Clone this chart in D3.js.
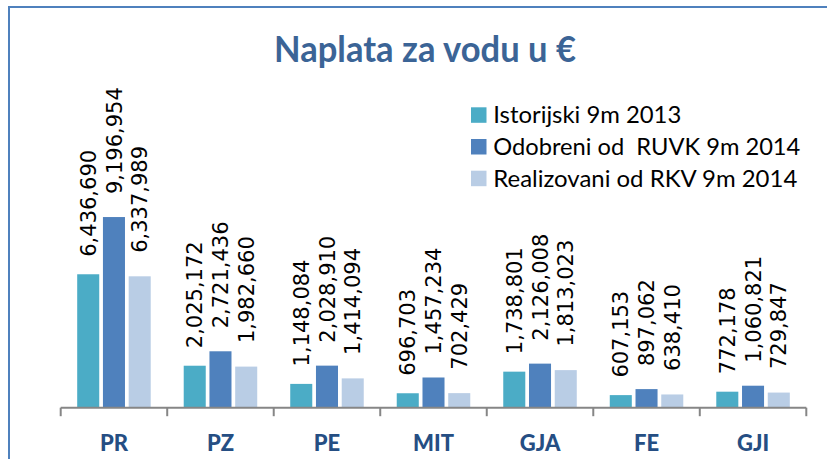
<!DOCTYPE html>
<html>
<head>
<meta charset="utf-8">
<script src="https://cdn.jsdelivr.net/npm/d3@7"></script>
<style>
  body { margin: 0; background: #fff; }
  svg { display: block; }
</style>
</head>
<body>
<div id="chart"></div>
<script>
// chart data
var categories = ["PR", "PZ", "PE", "MIT", "GJA", "FE", "GJI"];
var seriesNames = ["Istorijski 9m 2013", "Odobreni od  RUVK 9m 2014", "Realizovani od RKV 9m 2014"];
var istorijski = [6436690, 2025172, 1148084, 696703, 1738801, 607153, 772178];
var odobreni = [9196954, 2721436, 2028910, 1457234, 2126008, 897062, 1060821];
var realizovani = [6337989, 1982660, 1414094, 702429, 1813023, 638410, 729847];
var yMax = 10000000;

var width = 827, height = 459;
var colors = ["#4bacc6", "#4f81bd", "#b9cde5"];
var labelGap = [17.5, 23, 23.5]; // space between bar top and its label, per series
var legendWidths = [188, 307, 304];

var svg = d3.select("#chart").append("svg")
	.attr("width", width)
	.attr("height", height);

// frame of the chart area (only top and left edge are inside the picture)
svg.append("rect")
	.attr("x", 9)
	.attr("y", 7)
	.attr("width", 900)
	.attr("height", 500)
	.style("fill", "none")
	.style("stroke", "#4f81bd")
	.style("stroke-width", 2);

svg.append("text")
	.attr("x", 425)
	.attr("y", 62.3)
	.attr("text-anchor", "middle")
	.attr("textLength", 302)
	.attr("lengthAdjust", "spacingAndGlyphs")
	.style("font-family", "Lato, 'Open Sans', sans-serif")
	.style("font-weight", "bold")
	.style("font-size", "37px")
	.style("fill", "#3b6496")
	.text("Naplata za vodu u €");

var x = d3.scaleBand()
	.domain(categories)
	.range([60.7, 806.3]);

var xs = d3.scaleBand()
	.domain(d3.range(seriesNames.length))
	.range([16.5, x.bandwidth() - 16.5])
	.paddingInner(0.144);

var y = d3.scaleLinear()
	.domain([0, yMax])
	.range([407.7, 200.4]);

var rows = categories.map(function(c, i) {
	return { cat: c, values: [istorijski[i], odobreni[i], realizovani[i]] };
});

var fmt = d3.format(",");

var group = svg.selectAll("g.cat")
	.data(rows)
	.enter()
	.append("g")
	.attr("class", "cat")
	.attr("transform", d => "translate(" + x(d.cat) + ",0)");

group.selectAll("rect")
	.data(d => d.values)
	.enter()
	.append("rect")
	.attr("x", (d, i) => xs(i))
	.attr("y", d => y(d))
	.attr("width", xs.bandwidth())
	.attr("height", d => y(0) - y(d))
	.style("fill", (d, i) => colors[i]);

group.selectAll("text.val")
	.data(d => d.values)
	.enter()
	.append("text")
	.attr("class", "val")
	.attr("transform", (d, i) => "translate(" + (xs(i) + xs.bandwidth() / 2) + "," + (y(d) - labelGap[i]) + ") rotate(-90)")
	.attr("dy", "0.36em")
	.style("font-family", "'DejaVu Sans', Verdana, sans-serif")
	.style("font-size", "21px")
	.style("fill", "#000")
	.text(d => fmt(d));

// axis: baseline with ticks on band boundaries
var axis = svg.append("g");
axis.append("line")
	.attr("x1", x.range()[0])
	.attr("x2", x.range()[1])
	.attr("y1", y(0))
	.attr("y2", y(0))
	.style("stroke", "#868686")
	.style("stroke-width", 2);

var bounds = categories.map(c => x(c)).concat([x.range()[1]]);
axis.selectAll("line.tick")
	.data(bounds)
	.enter()
	.append("line")
	.attr("class", "tick")
	.attr("x1", d => d)
	.attr("x2", d => d)
	.attr("y1", y(0))
	.attr("y2", y(0) + 8.5)
	.style("stroke", "#868686")
	.style("stroke-width", 2);

axis.selectAll("text")
	.data(categories)
	.enter()
	.append("text")
	.attr("x", d => x(d) + x.bandwidth() / 2)
	.attr("y", 450.7)
	.attr("text-anchor", "middle")
	.style("font-family", "Lato, 'Open Sans', sans-serif")
	.style("font-weight", "900")
	.style("font-size", "22px")
	.style("fill", "#254e83")
	.text(d => d);

// legend
var legend = svg.selectAll("g.legend")
	.data(seriesNames)
	.enter()
	.append("g")
	.attr("class", "legend")
	.attr("transform", (d, i) => "translate(471," + (123.3 + i * 31.7) + ")");

legend.append("rect")
	.attr("x", 0)
	.attr("y", -16)
	.attr("width", 15.5)
	.attr("height", 15.5)
	.style("fill", (d, i) => colors[i]);

legend.append("text")
	.attr("x", 22.3)
	.attr("y", 0)
	.attr("textLength", (d, i) => legendWidths[i])
	.attr("lengthAdjust", "spacingAndGlyphs")
	.style("font-family", "Lato, 'Open Sans', sans-serif")
	.style("font-size", "22.5px")
	.style("fill", "#000")
	.style("white-space", "pre")
	.text(d => d);
</script>
</body>
</html>
